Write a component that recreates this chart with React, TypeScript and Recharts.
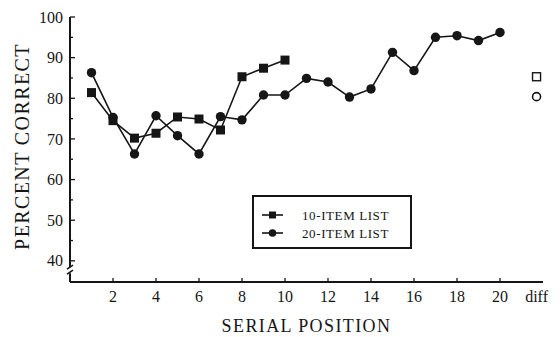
import React from "react";
import { ComposedChart, Line, Scatter, XAxis, YAxis, Legend } from "recharts";

const INK = "#161616";
const FONT = "'Liberation Serif', 'Times New Roman', serif";

// serial positions
const positions10 = [1, 2, 3, 4, 5, 6, 7, 8, 9, 10];
const positions20 = [1, 2, 3, 4, 5, 6, 7, 8, 9, 10, 11, 12, 13, 14, 15, 16, 17, 18, 19, 20];

// percent correct
const list10 = [81.4, 74.5, 70.2, 71.4, 75.4, 74.9, 72.2, 85.3, 87.4, 89.4];
const list20 = [
  86.3, 75.3, 66.3, 75.7, 70.8, 66.3, 75.5, 74.7, 80.8, 80.8,
  84.9, 84.0, 80.3, 82.3, 91.3, 86.8, 95.0, 95.4, 94.2, 96.2,
];
const diff10 = [85.3];
const diff20 = [80.4];

const DIFF_X = 21.7;
const BREAK_Y = 37.7;
const xTicks = [2, 4, 6, 8, 10, 12, 14, 16, 18, 20, DIFF_X];
const yTicks = [BREAK_Y, 40, 45, 50, 55, 60, 65, 70, 75, 80, 85, 90, 95, 100];

const rows10 = positions10.map((x, i) => ({ x, y: list10[i] }));
const rows20 = positions20.map((x, i) => ({ x, y: list20[i] }));
const diffRows10 = diff10.map((y) => ({ x: DIFF_X, y }));
const diffRows20 = diff20.map((y) => ({ x: DIFF_X, y }));

function SquareDot({ cx, cy, index }: any) {
  return <rect key={index} x={cx - 4.5} y={cy - 4.5} width={9} height={9} fill={INK} />;
}

function CircleDot({ cx, cy, index }: any) {
  return <circle key={index} cx={cx} cy={cy} r={4.7} fill={INK} />;
}

function OpenSquare({ cx, cy }: any) {
  return <rect x={cx - 4} y={cy - 4} width={8} height={8} fill="#fff" stroke={INK} strokeWidth={1.4} />;
}

function OpenCircle({ cx, cy }: any) {
  return <circle cx={cx} cy={cy} r={4} fill="#fff" stroke={INK} strokeWidth={1.6} />;
}

function YTick({ x, y, payload }: any) {
  const v = payload.value;
  if (v === BREAK_Y) {
    return (
      <g stroke={INK} strokeWidth={1.5}>
        <rect x={x - 3} y={y - 3} width={6} height={6} fill="#fff" stroke="none" />
        <line x1={x - 3} y1={y - 1} x2={x + 3} y2={y - 5} />
        <line x1={x - 3} y1={y + 4} x2={x + 3} y2={y} />
      </g>
    );
  }
  const major = v % 10 === 0;
  return (
    <g>
      <line x1={x} x2={x + (major ? 5 : 3)} y1={y} y2={y} stroke={INK} strokeWidth={1.3} />
      {major && (
        <text x={x - 7} y={y} dy="0.35em" textAnchor="end" fill={INK} fontSize={16} fontFamily={FONT}>
          {v}
        </text>
      )}
    </g>
  );
}

function XTick({ x, y, payload }: any) {
  const v = payload.value;
  const isDiff = v === DIFF_X;
  return (
    <g>
      {!isDiff && <line x1={x} x2={x} y1={y} y2={y - 4} stroke={INK} strokeWidth={1.3} />}
      <text x={x} y={y + 20} textAnchor="middle" fill={INK} fontSize={16} fontFamily={FONT}>
        {isDiff ? "diff" : v}
      </text>
    </g>
  );
}

function YTitle({ viewBox }: any) {
  const cx = viewBox.x + 22;
  const cy = viewBox.y + viewBox.height / 2 - 3;
  return (
    <text
      x={cx}
      y={cy}
      transform={`rotate(-90 ${cx} ${cy})`}
      textAnchor="middle"
      dominantBaseline="central"
      fill={INK}
      fontSize={20}
      letterSpacing={1.4}
      fontFamily={FONT}
    >
      PERCENT CORRECT
    </text>
  );
}

function XTitle({ viewBox }: any) {
  const cx = viewBox.x + viewBox.width / 2;
  return (
    <text x={cx} y={viewBox.y + 50} textAnchor="middle" fill={INK} fontSize={18} letterSpacing={1.4} fontFamily={FONT}>
      SERIAL POSITION
    </text>
  );
}

function LegendBox() {
  return (
    <svg width={160} height={54} style={{ display: "block" }}>
      <rect x={1} y={1} width={158} height={52} fill="#fff" stroke={INK} strokeWidth={2} />
      <line x1={10} x2={31} y1={20} y2={20} stroke={INK} strokeWidth={1.6} />
      <rect x={17} y={16.5} width={7} height={7} fill={INK} />
      <text x={50} y={20} dy="0.35em" fill={INK} fontSize={13} letterSpacing={0.6} fontFamily={FONT}>
        10-ITEM LIST
      </text>
      <line x1={10} x2={31} y1={38} y2={38} stroke={INK} strokeWidth={1.6} />
      <circle cx={20.5} cy={38} r={3.8} fill={INK} />
      <text x={50} y={38} dy="0.35em" fill={INK} fontSize={13} letterSpacing={0.6} fontFamily={FONT}>
        20-ITEM LIST
      </text>
    </svg>
  );
}

export default function App() {
  return (
    <div style={{ position: "absolute", left: 0, top: 0, background: "#fff" }}>
      <ComposedChart width={560} height={337} margin={{ top: 17, right: 17, bottom: 0, left: 0 }}>
        <XAxis
          type="number"
          dataKey="x"
          domain={[0, 22]}
          ticks={xTicks}
          interval={0}
          tick={<XTick />}
          tickSize={0}
          tickMargin={0}
          tickLine={false}
          axisLine={{ stroke: INK, strokeWidth: 2 }}
          height={55}
          label={XTitle}
          allowDataOverflow
        />
        <YAxis
          type="number"
          domain={[34.8, 100]}
          ticks={yTicks}
          interval={0}
          tick={<YTick />}
          tickSize={0}
          tickMargin={0}
          tickLine={false}
          axisLine={{ stroke: INK, strokeWidth: 2 }}
          width={70}
          label={YTitle}
          allowDataOverflow
        />
        <Legend
          layout="vertical"
          align="center"
          verticalAlign="middle"
          content={<LegendBox />}
          wrapperStyle={{ left: 252, top: 195, width: 160 }}
        />
        <Line
          data={rows10}
          dataKey="y"
          name="10-ITEM LIST"
          type="linear"
          stroke={INK}
          strokeWidth={1.6}
          dot={SquareDot}
          isAnimationActive={false}
        />
        <Line
          data={rows20}
          dataKey="y"
          name="20-ITEM LIST"
          type="linear"
          stroke={INK}
          strokeWidth={1.6}
          dot={CircleDot}
          isAnimationActive={false}
        />
        <Scatter data={diffRows10} dataKey="y" shape={OpenSquare} legendType="none" isAnimationActive={false} />
        <Scatter data={diffRows20} dataKey="y" shape={OpenCircle} legendType="none" isAnimationActive={false} />
      </ComposedChart>
    </div>
  );
}
